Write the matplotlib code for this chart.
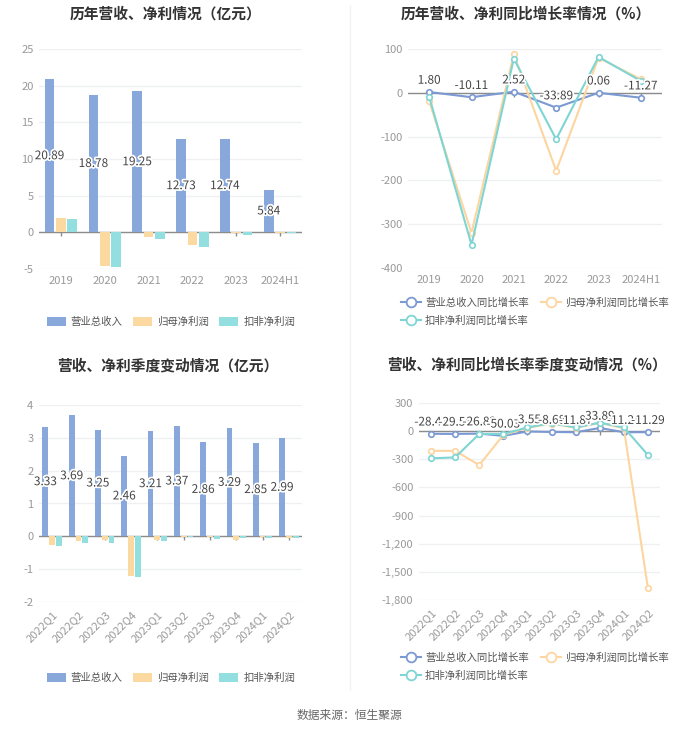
import matplotlib
matplotlib.use('Agg')
import matplotlib.pyplot as plt
import matplotlib.patheffects as pe
from matplotlib.lines import Line2D
from matplotlib.patches import Patch
from matplotlib.ticker import FuncFormatter
import numpy as np

plt.rcParams['font.family'] = ['Noto Sans CJK SC', 'DejaVu Sans']
plt.rcParams['axes.unicode_minus'] = False

W, H = 700, 733

# 年度数据（亿元）
years = ['2019', '2020', '2021', '2022', '2023', '2024H1']
year_revenue = [20.89, 18.78, 19.25, 12.73, 12.74, 5.84]
year_net = [2.0, -4.6, -0.6, -1.73, -0.15, -0.05]
year_deduct = [1.8, -4.7, -0.95, -1.96, -0.3, -0.08]

# 年度同比增长率（%）
year_rev_growth = [1.80, -10.11, 2.52, -33.89, 0.06, -11.27]
year_net_growth = [-19, -320, 88, -178, 80, 31]
year_deduct_growth = [-9, -347, 78, -106, 82, 27]

# 季度数据（亿元）
quarters = ['2022Q1', '2022Q2', '2022Q3', '2022Q4', '2023Q1',
            '2023Q2', '2023Q3', '2023Q4', '2024Q1', '2024Q2']
q_revenue = [3.33, 3.69, 3.25, 2.46, 3.21, 3.37, 2.86, 3.29, 2.85, 2.99]
q_net = [-0.25, -0.14, -0.12, -1.22, -0.12, -0.02, -0.03, -0.1, -0.03, -0.04]
q_deduct = [-0.29, -0.2, -0.2, -1.25, -0.15, -0.01, -0.09, -0.04, -0.05, -0.05]

# 季度同比增长率（%）
q_rev_growth = [-28.47, -29.56, -26.82, -50.03, -3.55, -8.68, -11.87, 33.89, -11.24, -11.29]
q_net_growth = [-210, -210, -362, -40, 35, 80, 35, 88, 30, -1676]
q_deduct_growth = [-290, -280, -30, -30, 40, 85, 40, 90, 40, -255]

bar_labels = ['营业总收入', '归母净利润', '扣非净利润']
line_labels = ['营业总收入同比增长率', '归母净利润同比增长率', '扣非净利润同比增长率']

C_REV = '#88a8dc'
C_NET = '#fdd9a2'
C_DED = '#93dfe0'
L_REV = '#7b99d3'
L_NET = '#fcd5a0'
L_DED = '#7fd5d3'
GRID = '#eef0f3'
ZERO = '#8c8c8c'
TICK = '#999999'
TXT = '#444444'

halo = [pe.withStroke(linewidth=2.5, foreground='white')]


def rect(l, t, r, b):
    return [l / W, 1 - b / H, (r - l) / W, (b - t) / H]


def style_axes(ax, n, ylim, yticks, rotate=False, fmt=None):
    ax.set_xlim(-0.5, n - 0.5)
    ax.set_ylim(*ylim)
    ax.set_yticks(yticks)
    if fmt:
        ax.yaxis.set_major_formatter(FuncFormatter(fmt))
    for s in ax.spines.values():
        s.set_visible(False)
    ax.grid(axis='y', color=GRID, lw=1)
    ax.set_axisbelow(True)
    ax.tick_params(axis='y', length=0, labelsize=8, labelcolor=TICK, pad=4)
    ax.tick_params(axis='x', length=0, labelsize=8, labelcolor=TICK, pad=5)
    ax.axhline(0, color=ZERO, lw=1, zorder=1.5)
    ax.plot(np.arange(n), np.zeros(n), ls='none', marker=3, ms=3,
            color=ZERO, zorder=1.5)
    if rotate:
        for lab in ax.get_xticklabels():
            lab.set_rotation(45)
            lab.set_ha('right')
            lab.set_rotation_mode('anchor')


def bar_panel(ax, cats, rev, net, ded, ylim, yticks, rotate=False):
    x = np.arange(len(cats))
    ax.bar(x - 0.26, rev, 0.22, color=C_REV, zorder=2)
    ax.bar(x, net, 0.22, color=C_NET, zorder=2)
    ax.bar(x + 0.26, ded, 0.22, color=C_DED, zorder=2)
    ax.set_xticks(x)
    ax.set_xticklabels(cats)
    style_axes(ax, len(cats), ylim, yticks, rotate)
    for xi, v in zip(x, rev):
        ax.text(xi - 0.26, v / 2, '%.2f' % v, ha='center', va='center',
                fontsize=8.5, color=TXT, path_effects=halo, zorder=5)


def line_panel(ax, cats, rev, net, ded, ylim, yticks, rotate=False, fmt=None):
    x = np.arange(len(cats))
    for vals, c in ((rev, L_REV), (net, L_NET), (ded, L_DED)):
        ax.plot(x, vals, color=c, lw=1.5, marker='o', ms=4, mfc='white',
                mec=c, mew=1.2, zorder=3)
    ax.set_xticks(x)
    ax.set_xticklabels(cats)
    style_axes(ax, len(cats), ylim, yticks, rotate, fmt)
    for xi, v in zip(x, rev):
        ax.annotate('%.2f' % v, (xi, v), xytext=(0, 8.5), textcoords='offset points',
                    ha='center', va='center', fontsize=8.5, color=TXT,
                    path_effects=halo, zorder=5)


fig = plt.figure(figsize=(7, 7.33), dpi=100)
fig.patch.set_facecolor('white')

# 分隔线
fig.add_artist(Line2D([350 / W, 350 / W], [1 - 5 / H, 1 - 690 / H],
                      color='#f2f2f2', lw=1))

ax1 = fig.add_axes(rect(39, 49, 302, 269))
bar_panel(ax1, years, year_revenue, year_net, year_deduct, (-5, 25), range(-5, 26, 5))

ax2 = fig.add_axes(rect(408, 49, 662, 268))
line_panel(ax2, years, year_rev_growth, year_net_growth, year_deduct_growth,
           (-400, 100), range(-400, 101, 100))

ax3 = fig.add_axes(rect(39, 405, 302, 602))
bar_panel(ax3, quarters, q_revenue, q_net, q_deduct, (-2, 4), range(-2, 5), rotate=True)

ax4 = fig.add_axes(rect(419, 403, 660, 600))
line_panel(ax4, quarters, q_rev_growth, q_net_growth, q_deduct_growth,
           (-1800, 300), range(-1800, 301, 300), rotate=True,
           fmt=lambda v, p: '{:,}'.format(int(v)))

titles = [('历年营收、净利情况（亿元）', 166, 14),
          ('历年营收、净利同比增长率情况（%）', 526, 14),
          ('营收、净利季度变动情况（亿元）', 168, 366),
          ('营收、净利同比增长率季度变动情况（%）', 527, 365)]
for t, cx, cy in titles:
    fig.text(cx / W, 1 - cy / H, t, ha='center', va='center', fontsize=10.6,
             fontweight='bold', color='#333333')

bar_handles = [Patch(facecolor=c, edgecolor='none') for c in (C_REV, C_NET, C_DED)]
line_handles = [Line2D([], [], color=c, lw=1.5, marker='o', ms=7, mfc='white',
                       mec=c, mew=1.3) for c in (L_REV, L_NET, L_DED)]
# 图例按列填充：调整顺序使第一行为前两项
leg_order = [0, 2, 1]

for cy in (322, 678):
    fig.legend(bar_handles, bar_labels, loc='center', bbox_to_anchor=(171 / W, 1 - cy / H),
               ncol=3, frameon=False, fontsize=7.5, labelcolor='#555555',
               handlelength=1.8, handleheight=1.0, handletextpad=0.5,
               columnspacing=1.0, borderpad=0, borderaxespad=0)

for top in (297, 652):
    fig.legend([line_handles[i] for i in leg_order], [line_labels[i] for i in leg_order],
               loc='upper left', bbox_to_anchor=(401 / W, 1 - top / H),
               ncol=2, frameon=False, fontsize=7.5, labelcolor='#555555',
               handlelength=1.9, handletextpad=0.4, columnspacing=1.2,
               labelspacing=0.75, borderpad=0, borderaxespad=0)

fig.text(349 / W, 1 - 715 / H, '数据来源：恒生聚源', ha='center', va='center',
         fontsize=8.5, color='#666666')

fig.savefig('out.png', dpi=100, facecolor='white')
plt.close(fig)
